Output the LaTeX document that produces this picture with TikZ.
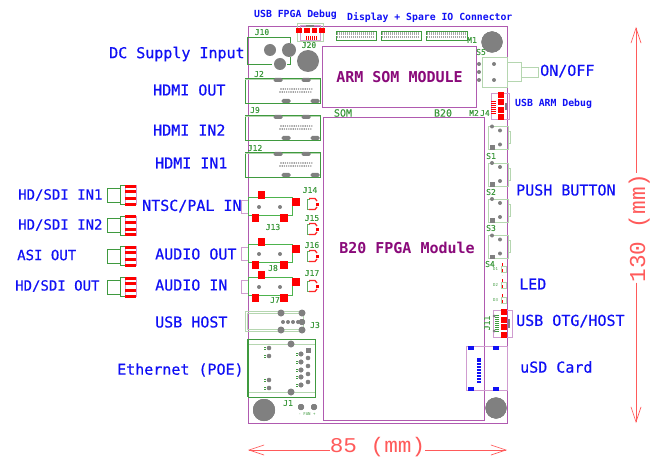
\documentclass[tikz,border=0pt]{standalone}
\usepackage{fontspec}
\setmainfont{DejaVu Sans Mono}
\newfontfamily\heavyfont[FakeBold=0.45]{DejaVu Sans Mono}
\newfontfamily\dimfont{Liberation Mono}
\usetikzlibrary{arrows.meta}
\definecolor{brd}{HTML}{B05AB0}
\definecolor{pur}{HTML}{8A0A7A}
\definecolor{grn}{HTML}{3F9A3F}
\definecolor{lgrn}{HTML}{B5D6B0}
\definecolor{gry}{HTML}{808080}
\definecolor{blu}{HTML}{1010F5}
\definecolor{dimc}{HTML}{FF5A5A}
\tikzset{
 x=1pt,y=-1pt,
 lab/.style={text=blu,font=\heavyfont\fontsize{15}{15}\selectfont,inner sep=0pt,anchor=west},
 labs/.style={text=blu,font=\heavyfont\fontsize{14}{14}\selectfont,inner sep=0pt,anchor=west},
 small/.style={text=blu,font=\fontsize{9.8}{10}\bfseries\selectfont,inner sep=0pt,anchor=west},
 ref/.style={text=grn,font=\heavyfont\fontsize{8}{8}\selectfont,inner sep=0pt},
 tiny/.style={text=grn,font=\fontsize{4}{4}\selectfont,inner sep=0pt},
 title/.style={text=pur,font=\fontsize{15}{15}\bfseries\selectfont,inner sep=0pt},
 brdline/.style={draw=brd,line width=1pt},
 lbrd/.style={draw=brd!60,line width=.9pt},
 gbox/.style={draw=grn,line width=.9pt},
 lbox/.style={draw=lgrn,line width=.9pt},
 dimstart/.style={draw=dimc,line width=.7pt,{Straight Barb[length=15pt,width=10pt,line width=.7pt]}-},
 dimend/.style={draw=dimc,line width=.7pt,-{Straight Barb[length=15pt,width=10pt,line width=.7pt]}},
 dimtext/.style={text=dimc,font=\dimfont\fontsize{21}{21}\selectfont,inner sep=0pt},
}
\newcommand{\rr}[4]{\fill[red] (#1,#2) rectangle (#3,#4);}
\newcommand{\dd}[3]{\fill[gry] (#1,#2) circle[radius=#3];}
\newcommand{\hdmi}[1]{% #1 = top y
 \begin{scope}[shift={(0,#1)}]
 \draw[gbox] (245,0) rectangle (320,25);
 \draw[lbox] (245,1) -- (320,1);
 \foreach \x in {278,306} \fill[gry,rounded corners=1.5pt] (\x-4.5,0) rectangle (\x+4.5,4);
 \foreach \x in {286,315} \fill[gry,rounded corners=1.5pt] (\x-4.5,21) rectangle (\x+4.5,25);
 \foreach \i in {0,...,14} {\fill[gry] (281+2.2*\i,11) circle[radius=.8];}
 \foreach \i in {0,...,14} {\fill[gry] (280+2.2*\i,14) circle[radius=.8];}
 \end{scope}}
\newcommand{\coax}[1]{% #1 = centre y
 \begin{scope}[shift={(0,#1)}]
 \draw[gbox] (107,-7) rectangle (120,7);
 \draw[gbox] (120,-9.5) rectangle (125,9.5);
 \draw[lbrd] (125,-9.5) rectangle (136,9.5);
 \rr{125}{-10.5}{136}{-7.5}\rr{125}{-5}{136}{-2}\rr{125}{2}{136}{5}\rr{125}{7.5}{136}{10.5}
 \end{scope}}
\newcommand{\audio}[1]{% #1 = body top y
 \begin{scope}[shift={(0,#1)}]
 \draw[lbrd] (248,3) -- (241,3) -- (241,16) -- (248,16);
 \draw[draw=gry!60!green,line width=.9pt] (248,0) rectangle (292,18);
 \dd{259}{10}{2}\dd{280}{10}{2}
 \rr{257.5}{-6}{264.5}{2}\rr{292}{1}{300}{9}\rr{252}{17}{259}{25}\rr{280}{17}{288}{25}
 \end{scope}}
\newcommand{\jack}[2]{% #1 x #2 y centre
 \begin{scope}[shift={(#1,#2)}]
 \draw[grn!70!lgrn,line width=.9pt] (-2,-5) -- (-5,-5) -- (-5,5) -- (-2,5);
 \draw[red!85!white,line width=1.3pt] (-3,-5.5) -- (3,-5.5) -- (5,-3) (5,3) -- (3,5.5) -- (-3,5.5);
 \rr{3.5}{-1.5}{6.5}{1.5}
 \end{scope}}
\newcommand{\swbox}[1]{% #1 = top y
 \begin{scope}[shift={(0,#1)}]
 \draw[lbox] (488,0) rectangle (508,23);
 \draw[lbox] (508,5) -- (510,5) -- (510,17) -- (508,17);
 \dd{492}{0}{2}\dd{500}{4}{2}\dd{500}{18}{2}
 \fill[gry] (490,19) rectangle (494.5,23.5);
 \end{scope}}
\newcommand{\led}[2]{% #1 name #2 y
 \node[tiny] at (495.5,#2) {#1};
 \draw[lbox] (501,#2-3) rectangle (506,#2+3);
 \draw[red,line width=.8pt,dashed] (502.5,#2-6) -- (502.5,#2+6);
}
\begin{document}
\begin{tikzpicture}
\useasboundingbox (0,0) rectangle (655,457);
\fill[white] (0,0) rectangle (655,457);
% board and modules
\draw[brdline] (248,27) rectangle (507,423);
\draw[brdline] (322,47) rectangle (476,108);
\draw[brdline] (323,118) -- (484.5,118) -- (484.5,420) -- (323,420) -- cycle;
% J10, J20
\draw[gbox] (290,43) -- (290,37) -- (247,37) -- (247,64) -- (272,64) (290,57) -- (290,64) -- (287,64);
\dd{270}{50}{6}\dd{289}{50}{7}\dd{280}{64}{6}\dd{308}{61}{11}
\draw[lbox] (297,23) rectangle (323,41);
\draw[lbrd] (300,25) rectangle (320,40);
\foreach \x in {306,308,...,316} \draw[red,line width=.6pt] (\x,36) -- (\x,40);
\fill[gry] (306,25) rectangle (314,27);
\rr{296}{28}{302}{33.5}\rr{304}{28}{310}{33.5}\rr{311.5}{28}{317}{33.5}\rr{319}{28}{325}{33.5}
% headers
\foreach \a/\b in {336/376,381/421,426/467} {
 \draw[gbox] (\a,31) rectangle (\b,40);
 \fill[gry!70] (\a+1,32.5) rectangle (\b-1,38.5);
 \foreach \x in {1,...,19} \draw[white,line width=.3pt] (\a+\x*2,32) -- (\a+\x*2,39);
 \draw[white,line width=.3pt] (\a,35.5) -- (\b,35.5);
}
% HDMI
\hdmi{78}\hdmi{115}\hdmi{152}
% audio
\audio{197}\audio{244}\audio{277}
\jack{312}{204}\jack{312}{229}\jack{312}{256}\jack{312}{286}
% J3
\draw[lbox] (245,311) rectangle (303,331);
\draw[lbox] (247,313) rectangle (303,329);
\foreach \x in {281,302} {\dd{\x}{313}{3.5}\dd{\x}{330}{3.5}}
\foreach \x in {283,288,293,298} \dd{\x}{322}{2}
\dd{302}{322}{3}
% J1
\draw[gbox] (248,339) rectangle (315,397);
\draw[lbox] (248,344) -- (315,344) (248,392) -- (315,392);
\draw[grn,line width=1.2pt] (248,339) -- (248,397);
\dd{291}{344}{3.5}\dd{291}{392}{3.5}
\foreach \y in {348,356,380,388} {\dd{269}{\y}{2.3}\draw[grn,line width=.4pt] (264,\y-1) -- (266,\y-1) (264,\y+1) -- (266,\y+1);}
\fill[gry] (305.5,348) rectangle (310.5,353);
\foreach \y in {358,366,374,382} \dd{308}{\y}{2.3}
\foreach \y in {354,362,370,377,385} {\dd{301}{\y}{2.3}\draw[grn,line width=.4pt] (296,\y-1) -- (298,\y-1) (296,\y+1) -- (298,\y+1);}
\dd{264}{410}{11}\dd{301}{407}{3}\dd{314}{407}{3}
\dd{492}{42}{10.5}\dd{496}{408}{10.5}
% S5
\draw[lbox] (482,57) rectangle (507,87);
\draw[lbox] (507,62) rectangle (521,81);
\draw[lbox] (521,67) rectangle (538,77);
\dd{479}{64}{2}\dd{479}{72}{2}\dd{479}{80}{2}\dd{494}{64}{2}\dd{494}{80}{2}
% J4
\draw[lbrd] (491,93) rectangle (509,119);
\foreach \y in {101,103,...,113} \draw[red,line width=.5pt] (491,\y) -- (496,\y);
\fill[gry] (505,103) rectangle (507,110);
\rr{498}{92}{504}{98}\rr{498}{99}{504}{105}\rr{498}{107}{504}{113}\rr{498}{114}{504}{120}
% switches
\swbox{126.5}\swbox{163}\swbox{199}\swbox{235.5}
\led{D1}{269}\led{D2}{285}\led{D3}{300}
% J11
\draw[lbrd] (493,310) rectangle (512,337);
\foreach \y in {315,317,...,331} \draw[grn,line width=.4pt] (495,\y) -- (499,\y);
\fill[gry] (507.5,319) rectangle (510,328);
\dd{494}{316}{1.5}\dd{494}{331}{1.5}
\rr{501}{309}{507}{315}\rr{501}{317}{507}{323}\rr{501}{324}{507}{330}\rr{501}{332}{507}{338}
% uSD
\draw[lbrd] (466,346) rectangle (507,390);
\foreach \x in {471,496} {\fill[blu] (\x-3,346) rectangle (\x+3,350); \fill[blu] (\x-3,387) rectangle (\x+3,391);}
\foreach \i in {0,...,8} \fill[blu] (477,357.5+2.9*\i) rectangle (481,359.5+2.9*\i);
% coax
\coax{195}\coax{225.5}\coax{256}\coax{287}
% module titles
\node[title] (armt) at (399.5,77) {ARM SOM MODULE};
\node[title] (fpgat) at (407,248) {B20 FPGA Module};
% outer labels
\node[lab] (a1) at (109,54) {DC Supply Input};
\node[lab] (a2) at (153,90) {HDMI OUT};
\node[lab] (a3) at (153,130) {HDMI IN2};
\node[lab] (a4) at (155,163) {HDMI IN1};
\node[lab] (a5) at (142,206) {NTSC/PAL IN};
\node[lab] (a6) at (155,254) {AUDIO OUT};
\node[lab] (a7) at (155,285) {AUDIO IN};
\node[lab] (a8) at (155,322) {USB HOST};
\node[lab] (a9) at (117,370) {Ethernet (POE)};
\node[labs] (b1) at (18,195) {HD/SDI IN1};
\node[labs] (b2) at (18,225) {HD/SDI IN2};
\node[labs] (b3) at (17,255) {ASI OUT};
\node[labs] (b4) at (15,286) {HD/SDI OUT};
\node[lab] (c1) at (540,71) {ON/OFF};
\node[lab] (c2) at (516,190) {PUSH BUTTON};
\node[lab] (c3) at (519,284) {LED};
\node[lab] (c4) at (516,321) {USB OTG/HOST};
\node[lab] (c5) at (520,367) {uSD Card};
\node[small] (d1) at (515,104) {USB ARM Debug};
\node[small] (d2) at (254,15) {USB FPGA Debug};
\node[small] (d3) at (347,18) {Display + Spare IO Connector};
% refs
\node[ref] at (262,32) {J10};
\node[ref] at (309,45) {J20};
\node[ref] at (259,74) {J2};
\node[ref] at (255,110) {J9};
\node[ref] at (255,148) {J12};
\node[ref] at (310,190) {J14};
\node[ref] at (312,218) {J15};
\node[ref] at (312,245) {J16};
\node[ref] at (312,273) {J17};
\node[ref] at (273,227) {J13};
\node[ref] at (273,268) {J8};
\node[ref] at (275,300) {J7};
\node[ref] at (315,325) {J3};
\node[ref] at (288,403) {J1};
\node[ref] at (472,40) {M1};
\node[ref] at (481,52) {S5};
\node[ref] at (474,113) {M2};
\node[ref] at (485,113) {J4};
\node[ref] at (491,156) {S1};
\node[ref] at (491,192) {S2};
\node[ref] at (491,228) {S3};
\node[ref] at (490,264) {S4};
\node[ref,rotate=90] at (487,323) {J11};
\node[text=grn,font=\heavyfont\fontsize{10}{10}\selectfont,inner sep=0pt] at (343,113) {SOM};
\node[text=grn,font=\heavyfont\fontsize{10}{10}\selectfont,inner sep=0pt] at (443,113) {B20};
\node[tiny] at (307,414) {- FAN +};
% dimensions
\coordinate (dl) at (248,450); \coordinate (dr) at (507,450);
\coordinate (dt) at (636,27); \coordinate (db) at (636,423);
\node[dimtext,xscale=1.08,anchor=base] (d85) at (377.5,452) {85 (mm)};
\draw[dimstart] (dl) -- (dl -| d85.west);
\draw[dimend] (dl -| d85.east) -- (dr);
\node[dimtext,font=\dimfont\fontsize{22.7}{22.7}\selectfont,rotate=90,anchor=base] (d130) at (645,228) {130 (mm)};
\draw[dimstart] (dt) -- (dt |- d130.east);
\draw[dimend] (dt |- d130.west) -- (db);
\end{tikzpicture}
\end{document}
